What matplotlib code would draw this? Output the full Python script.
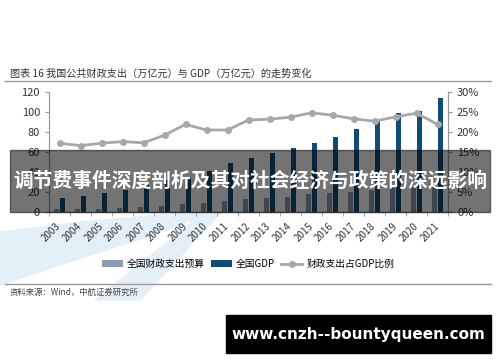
import numpy as np
import matplotlib.pyplot as plt
from matplotlib.patches import Polygon, Rectangle

plt.rcParams['font.family'] = ['Noto Sans CJK SC', 'DejaVu Sans']

years = ['2003', '2004', '2005', '2006', '2007', '2008', '2009', '2010', '2011', '2012',
         '2013', '2014', '2015', '2016', '2017', '2018', '2019', '2020', '2021']
spend = [2.5, 2.8, 3.4, 4.0, 5.0, 6.3, 7.6, 9.0, 10.9, 12.6,
         14.0, 15.2, 17.6, 18.8, 20.3, 22.1, 23.9, 24.6, 24.6]
gdp = [13.7, 16.2, 18.7, 21.9, 27.0, 31.9, 34.9, 41.2, 48.8, 53.9,
       59.3, 64.4, 68.9, 74.6, 83.2, 91.9, 98.7, 101.4, 114.4]
ratio = [17.2, 16.6, 17.2, 17.6, 17.3, 19.2, 21.9, 20.5, 20.5, 23.0,
         23.2, 23.7, 24.8, 24.2, 23.3, 22.7, 23.8, 24.7, 21.9]
left_ticks = [0, 20, 40, 60, 80, 100, 120]
right_ticks = [0, 5, 10, 15, 20, 25, 30]

W, H = 500, 362
fig = plt.figure(figsize=(5, 3.62), dpi=100)

def fx(x):
    return x / W

def fy(y):
    return 1 - y / H

# light blue swoosh in the background
swoosh_a = [(0, 232), (80, 222), (160, 215), (215, 212), (150, 236), (60, 265), (0, 285)]
swoosh_b = [(95, 300), (205, 212), (222, 212), (140, 300)]
for pts in (swoosh_a, swoosh_b):
    fig.patches.append(Polygon([(fx(x), fy(y)) for x, y in pts], closed=True,
                               transform=fig.transFigure, color='#e4f0f8', zorder=-1))

ax = fig.add_axes([fx(49), fy(212), fx(448) - fx(49), fy(92) - fy(212)])
ax.patch.set_alpha(0)
x = np.arange(len(years))
ax.bar(x - 0.14, spend, width=0.24, color='#8e9bb3', label='全国财政支出预算', zorder=2)
ax.bar(x + 0.14, gdp, width=0.24, color='#0f4c78', label='全国GDP', zorder=2)
ax.set_ylim(0, 120)
ax.set_xlim(-0.5, len(years) - 0.5)
ax.set_yticks(left_ticks)
ax.set_xticks(x)
ax.set_xticklabels(years, rotation=45, fontsize=7, color='#333333',
                   ha='right', va='center', rotation_mode='anchor')
ax.set_xticks(np.arange(len(years) + 1) - 0.5, minor=True)
ax.tick_params(axis='x', which='major', length=0, pad=9)
ax.tick_params(axis='x', which='minor', length=3, color='#999999')
ax.tick_params(axis='y', labelsize=8, labelcolor='#333333', color='#999999', length=3)
ax.spines['top'].set_visible(False)
for s in ['left', 'right', 'bottom']:
    ax.spines[s].set_color('#999999')

ax2 = ax.twinx()
ax2.plot(x, ratio, color='#a8a8a8', lw=2, marker='o', ms=4, label='财政支出占GDP比例', zorder=3)
ax2.set_ylim(0, 30)
ax2.set_yticks(right_ticks)
ax2.set_yticklabels([f'{t}%' for t in right_ticks])
ax2.tick_params(axis='y', labelsize=8, labelcolor='#333333', color='#999999', length=3)
ax2.spines['top'].set_visible(False)
for s in ['left', 'right', 'bottom']:
    ax2.spines[s].set_color('#999999')

h1, l1 = ax.get_legend_handles_labels()
h2, l2 = ax2.get_legend_handles_labels()
fig.legend(h1 + h2, l1 + l2, loc='center', bbox_to_anchor=(fx(248), fy(264)), ncol=3,
           frameon=False, fontsize=7, handlelength=2.2, handletextpad=0.4, columnspacing=0.6)

# title, rules and source
fig.text(fx(10), fy(74), '图表 16 我国公共财政支出（万亿元）与 GDP（万亿元）的走势变化',
         fontsize=7.3, color='#333333', va='center')
fig.add_artist(plt.Line2D([fx(5), fx(491)], [fy(81), fy(81)], color='#9a9a9a', lw=1))
fig.add_artist(plt.Line2D([fx(5), fx(491)], [fy(284), fy(284)], color='#9a9a9a', lw=1))
fig.text(fx(10), fy(292), '资料来源：Wind，中航证券研究所', fontsize=6, color='#444444',
         va='center', style='italic')

# dark banner with headline
fig.patches.append(Rectangle((fx(10), fy(212)), fx(490) - fx(10), fy(150) - fy(212),
                             transform=fig.transFigure, color='black', alpha=0.55, zorder=5))
fig.text(fx(250), fy(181), '调节费事件深度剖析及其对社会经济与政策的深远影响',
         fontsize=14.2, color='white', weight='bold', ha='center', va='center', zorder=6)

# site watermark
fig.patches.append(Rectangle((fx(226), fy(353)), fx(491) - fx(226), fy(315) - fy(353),
                             transform=fig.transFigure, color='black', zorder=5))
fig.text(fx(358), fy(334), 'www.cnzh--bountyqueen.com', fontsize=11, color='white',
         weight='bold', ha='center', va='center', zorder=6, family='DejaVu Sans')

fig.savefig('out.png', dpi=100)
